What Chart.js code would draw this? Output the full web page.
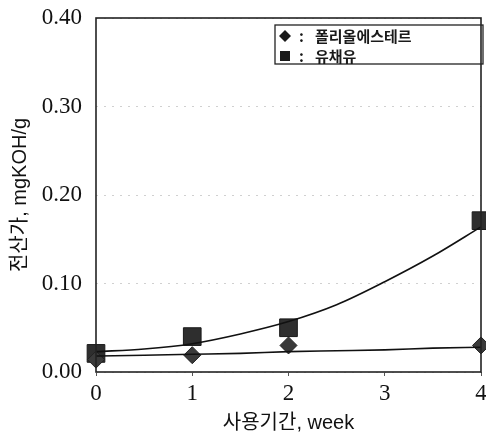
<!DOCTYPE html>
<html>
<head>
<meta charset="utf-8">
<script src="https://cdn.jsdelivr.net/npm/chart.js@4/dist/chart.umd.min.js"></script>
<style>
  html, body { margin: 0; padding: 0; background: #fff; overflow: hidden; }
  #wrap { width: 486px; height: 437px; position: relative; }
</style>
</head>
<body>
<div id="wrap"><canvas id="c"></canvas></div>
<script>
// measured points
const weeks = [0, 1, 2, 4];
const polyol = [0.014, 0.019, 0.030, 0.030];
const rapeseed = [0.021, 0.040, 0.050, 0.171];

// fitted trend curves
const fitX = [0, 0.5, 1, 1.5, 2, 2.5, 3, 3.5, 4];
const polyolFit = [0.018, 0.019, 0.020, 0.021, 0.023, 0.024, 0.025, 0.027, 0.028];
const rapeseedFit = [0.023, 0.026, 0.032, 0.043, 0.057, 0.076, 0.102, 0.131, 0.164];

const yTicks = [0, 0.1, 0.2, 0.3, 0.4];
const legendNames = ['폴리올에스테르', '유채유'];

const korean = '"Liberation Sans", "Noto Sans CJK KR", sans-serif';
const serif = '"Liberation Serif", "DejaVu Serif", serif';

function pts(xs, ys) {
  return xs.map((x, i) => ({ x: x, y: ys[i] }));
}

function noPad(s) {
  s.paddingLeft = 0;
  s.paddingRight = 0;
  s.paddingTop = 0;
  s.paddingBottom = 0;
}

const framePlugin = {
  id: 'frame',
  afterDraw(chart) {
    const { ctx, chartArea: a } = chart;
    ctx.save();
    ctx.strokeStyle = '#222';
    ctx.lineWidth = 1.6;
    ctx.strokeRect(a.left, a.top, a.right - a.left, a.bottom - a.top);

    // legend box in upper right
    const bx = 275, by = 25, bw = 208, bh = 39;
    ctx.lineWidth = 1.3;
    ctx.strokeRect(bx, by, bw, bh);
    ctx.fillStyle = '#1a1a1a';
    ctx.font = 'bold 15px "Noto Sans CJK KR", sans-serif';
    ctx.textBaseline = 'middle';
    const rows = [by + 11, by + 31];
    // diamond
    ctx.beginPath();
    ctx.moveTo(285, rows[0] - 6);
    ctx.lineTo(291, rows[0]);
    ctx.lineTo(285, rows[0] + 6);
    ctx.lineTo(279, rows[0]);
    ctx.closePath();
    ctx.fill();
    // square
    ctx.fillRect(280, rows[1] - 5, 10, 10);
    ctx.fillText(':', 299, rows[0]);
    ctx.fillText(':', 299, rows[1]);
    ctx.fillText(legendNames[0], 315, rows[0]);
    ctx.fillText(legendNames[1], 315, rows[1]);
    ctx.restore();
  }
};

new Chart(document.getElementById('c'), {
  type: 'scatter',
  data: {
    datasets: [
      {
        label: legendNames[0] + ' fit',
        data: pts(fitX, polyolFit),
        showLine: true,
        pointRadius: 0,
        borderColor: '#111',
        borderWidth: 1.6,
        cubicInterpolationMode: 'monotone',
        clip: false
      },
      {
        label: legendNames[1] + ' fit',
        data: pts(fitX, rapeseedFit),
        showLine: true,
        pointRadius: 0,
        borderColor: '#111',
        borderWidth: 1.6,
        cubicInterpolationMode: 'monotone',
        clip: false
      },
      {
        label: legendNames[0],
        data: pts(weeks, polyol),
        pointStyle: 'rectRot',
        pointRadius: 8.5,
        backgroundColor: '#3a3a3a',
        borderColor: '#222',
        borderWidth: 1,
        clip: false
      },
      {
        label: legendNames[1],
        data: pts(weeks, rapeseed),
        pointStyle: 'rect',
        pointRadius: 12.5,
        backgroundColor: '#2e2e2e',
        borderColor: '#1a1a1a',
        borderWidth: 1,
        clip: false
      }
    ]
  },
  options: {
    responsive: true,
    maintainAspectRatio: false,
    animation: false,
    layout: { autoPadding: false, padding: { left: 0, right: 5, top: 18, bottom: 0 } },
    plugins: {
      legend: { display: false },
      tooltip: { enabled: false }
    },
    scales: {
      x: {
        type: 'linear',
        min: 0,
        max: 4,
        afterFit: s => { s.height = 65; noPad(s); },
        ticks: {
          stepSize: 1,
          color: '#111',
          padding: 4,
          font: { family: serif, size: 23 }
        },
        grid: { drawOnChartArea: false, tickLength: 4, color: '#555' },
        border: { display: false },
        title: {
          display: true,
          text: '사용기간, week',
          color: '#111',
          padding: { top: 0, bottom: 2 },
          font: { family: korean, size: 20 }
        }
      },
      y: {
        min: 0,
        max: 0.4,
        afterFit: s => { s.width = 96; noPad(s); },
        afterBuildTicks: s => { s.ticks = yTicks.map(v => ({ value: v })); },
        ticks: {
          color: '#111',
          padding: 14,
          font: { family: serif, size: 23 },
          callback: v => Number(v).toFixed(2)
        },
        grid: {
          color: '#d0d0d0',
          lineWidth: 1,
          drawTicks: false
        },
        border: { display: false, dash: [2, 6] },
        title: {
          display: true,
          text: '전산가, mgKOH/g',
          color: '#111',
          padding: { top: 8, bottom: 0 },
          font: { family: korean, size: 20 }
        }
      }
    }
  },
  plugins: [framePlugin]
});
</script>
</body>
</html>
